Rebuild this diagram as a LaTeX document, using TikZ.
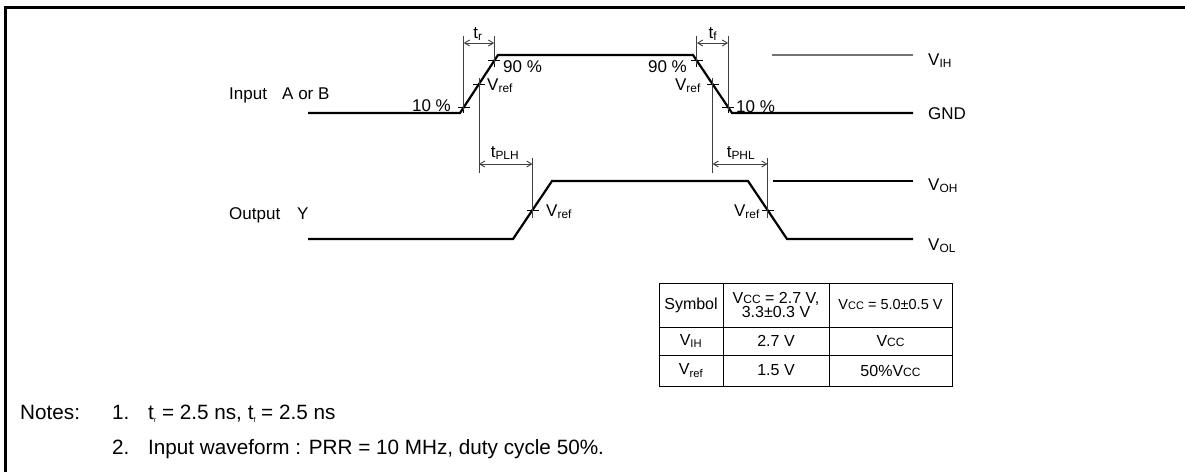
\documentclass[tikz,border=0pt]{standalone}
\usepackage{fontspec}
\setmainfont{Liberation Sans}
\usetikzlibrary{arrows.meta,calc}
\newcommand\lblf{\fontsize{17}{19}\selectfont}
\newcommand\tblf{\fontsize{16}{17}\selectfont}
\newcommand\ntf{\fontsize{20.7}{24}\selectfont}
\newcommand\smcc{{\fontsize{12}{12}\selectfont CC}}
\newcommand\tinysub[1]{\raisebox{-3pt}{\fontsize{7}{7}\selectfont #1}}
\begin{document}
\begin{tikzpicture}[x=1pt,y=-1pt,
 wave/.style={line width=2.2pt, line join=miter},
 dim/.style={line width=0.9pt, draw=black!75},
 dimarrow/.style={dim, {Straight Barb[length=5pt,width=6pt]}-{Straight Barb[length=5pt,width=6pt]}},
 refline/.style={line width=1.4pt, draw=black!55},
 tickm/.style={line width=0.9pt},
 lab/.style={font=\lblf, inner sep=0pt},
 tab/.style={font=\tblf, inner sep=0pt, align=center},
 note/.style={font=\ntf, inner sep=0pt, anchor=base west},
]
\useasboundingbox (0,0) rectangle (1185,472);
% frame
\draw[line width=3pt] (5,472) -- (5,7) -- (1185,7);

% input waveform points
\coordinate (i0) at (308,113);
\coordinate (i1) at (460,113);
\coordinate (i2) at (498,55);
\coordinate (i3) at (693,55);
\coordinate (i4) at (732,113);
\coordinate (i5) at (913,113);
\draw[wave] (i0) -- (i1) -- (i2) -- (i3) -- (i4) -- (i5);
\coordinate (r10) at ($(i1)!0.1!(i2)$);
\coordinate (r50) at ($(i1)!0.5!(i2)$);
\coordinate (r90) at ($(i1)!0.9!(i2)$);
\coordinate (f90) at ($(i3)!0.1!(i4)$);
\coordinate (f50) at ($(i3)!0.5!(i4)$);
\coordinate (f10) at ($(i3)!0.9!(i4)$);

% output waveform points
\coordinate (o0) at (308,239);
\coordinate (o1) at (513,239);
\coordinate (o2) at (552,181);
\coordinate (o3) at (748,181);
\coordinate (o4) at (787,239);
\coordinate (o5) at (913,239);
\draw[wave] (o0) -- (o1) -- (o2) -- (o3) -- (o4) -- (o5);
\coordinate (or50) at ($(o1)!0.5!(o2)$);
\coordinate (of50) at ($(o3)!0.5!(o4)$);

% level lines
\coordinate (vihA) at (772,55);
\coordinate (vihB) at (913,55);
\coordinate (vohA) at (773,181);
\coordinate (vohB) at (913,181);
\draw[refline] (vihA) -- (vihB);
\draw[line width=1.3pt] (vohA) -- (vohB);

% helper heights
\coordinate (ytop) at (0,36);
\coordinate (yarr) at (0,43);
\coordinate (yv1) at (0,78);
\coordinate (yv2) at (0,173);
\coordinate (yp1) at (0,158);
\coordinate (yp2) at (0,218);
\coordinate (yparr) at (0,164);

% ticks (crosses)
\foreach \p in {r10,r50,r90,f90,f50,f10,or50,of50}{
  \draw[tickm] ($(\p)+(-6,0)$) -- ($(\p)+(6,0)$);
  \draw[tickm] ($(\p)+(0,-6)$) -- ($(\p)+(0,6)$);
}

% t_r and t_f dimensions
\draw[dim] (r10 |- ytop) -- ($(r10)+(0,3)$);
\draw[dim] (r90 |- ytop) -- ($(r90)+(0,3)$);
\draw[dimarrow] (r10 |- yarr) -- (r90 |- yarr);
\draw[dim] (f90 |- ytop) -- ($(f90)+(0,3)$);
\draw[dim] (f10 |- ytop) -- ($(f10)+(0,3)$);
\draw[dimarrow] (f90 |- yarr) -- (f10 |- yarr);

% propagation dimensions
\draw[dim] (r50 |- yv1) -- (r50 |- yv2);
\draw[dim] (f50 |- yv1) -- (f50 |- yv2);
\draw[dim] (or50 |- yp1) -- (or50 |- yp2);
\draw[dim] (of50 |- yp1) -- (of50 |- yp2);
\draw[dimarrow] (r50 |- yparr) -- (or50 |- yparr);
\draw[dimarrow] (f50 |- yparr) -- (of50 |- yparr);

% labels
\node[lab, anchor=base] (ltr) at (478,38) {t\textsubscript{r}};
\node[lab, anchor=base] (ltf) at (713,38) {t\textsubscript{f}};
\node[lab, anchor=base east] (l10r) at (451,111) {10 \%};
\node[lab, anchor=base west] (l90r) at (503,72) {90 \%};
\node[lab, anchor=base west] (lvr) at (487,90) {V\textsubscript{ref}};
\node[lab, anchor=base east] (l90f) at (687,72) {90 \%};
\node[lab, anchor=base east] (lvf) at (701,90) {V\textsubscript{ref}};
\node[lab, anchor=base west] (l10f) at (736,112) {10 \%};
\node[lab, anchor=base] (lplh) at (505,157) {t\textsubscript{PLH}};
\node[lab, anchor=base] (lphl) at (741,157) {t\textsubscript{PHL}};
\node[lab, anchor=base west] (lovr) at (546,216) {V\textsubscript{ref}};
\node[lab, anchor=base east] (lovf) at (760,216) {V\textsubscript{ref}};
\node[lab, anchor=base west] (lvih) at (928,65) {V\textsubscript{IH}};
\node[lab, anchor=base west] (lgnd) at (928,119) {GND};
\node[lab, anchor=base west] (lvoh) at (928,190) {V\textsubscript{OH}};
\node[lab, anchor=base west] (lvol) at (928,250) {V\textsubscript{OL}};
\node[lab, anchor=base west] (lin1) at (229,99) {Input};
\node[lab, anchor=base west] (lin2) at (282,99) {A or B};
\node[lab, anchor=base west] (lout1) at (229,219) {Output};
\node[lab, anchor=base west] (lout2) at (297,219) {Y};

% table
\coordinate (t00) at (659,283);
\coordinate (t33) at (952,386);
\draw[line width=1pt] (t00) rectangle (t33);
\draw[line width=1pt] (723,283) -- (723,386);
\draw[line width=1pt] (829,283) -- (829,386);
\draw[line width=1pt] (659,327) -- (952,327);
\draw[line width=1pt] (659,355) -- (952,355);
\node[tab] (c11) at (691,305) {Symbol};
\node[tab] (c12) at (776,305) {V\smcc{} = 2.7 V,\\[-3pt]3.3±0.3 V};
\node[tab] (c13) at (890.5,305) {{\fontsize{14.5}{15}\selectfont V{\fontsize{11}{12}\selectfont CC} = 5.0±0.5 V}};
\node[tab] (c21) at (691,341) {V\textsubscript{IH}};
\node[tab] (c22) at (776,341) {2.7 V};
\node[tab] (c23) at (890.5,341) {V\smcc};
\node[tab] (c31) at (691,370.5) {V\textsubscript{ref}};
\node[tab] (c32) at (776,370.5) {1.5 V};
\node[tab] (c33) at (890.5,370.5) {50\%V\smcc};

% notes
\node[note] (n0) at (20,419) {Notes:};
\node[note] (n1) at (112,419) {1.};
\node[note] (n1t) at (148,419) {t\tinysub{r} = 2.5 ns, t\tinysub{f} = 2.5 ns};
\node[note] (n2) at (112,454) {2.};
\node[note] (n2t) at (148,454) {Input waveform : PRR = 10 MHz, duty cycle 50\%.};
\end{tikzpicture}
\end{document}
